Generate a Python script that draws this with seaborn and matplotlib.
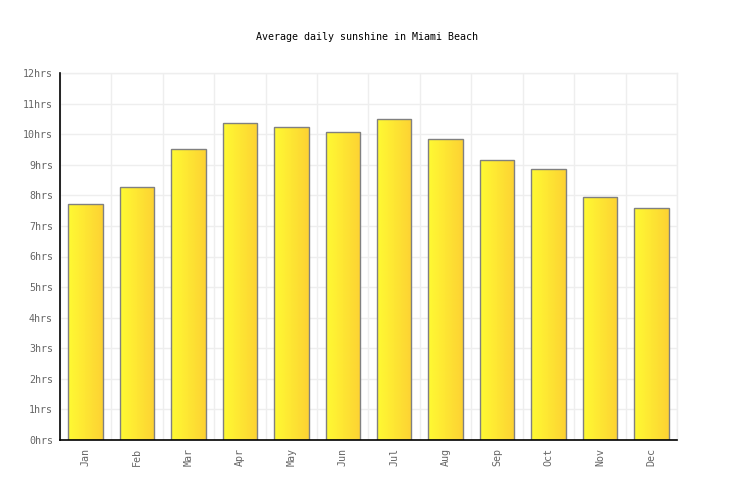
import numpy as np
import pandas as pd
import matplotlib
matplotlib.use("Agg")
import matplotlib.pyplot as plt
import seaborn as sns
from matplotlib.colors import LinearSegmentedColormap

months = ["Jan", "Feb", "Mar", "Apr", "May", "Jun", "Jul", "Aug", "Sep", "Oct", "Nov", "Dec"]
sunshine = [7.71, 8.26, 9.50, 10.36, 10.22, 10.06, 10.49, 9.83, 9.15, 8.85, 7.94, 7.58]
ytick_values = list(range(0, 13))
ytick_labels = [f"{v}hrs" for v in ytick_values]
title = "Average daily sunshine in Miami Beach"

df = pd.DataFrame({"month": months, "hours": sunshine})

sns.set_theme(style="white")
plt.rcParams["font.family"] = ["DejaVu Sans Mono"]

fig = plt.figure(figsize=(7.36, 5.0), dpi=100)
ax = fig.add_axes([60 / 736, 60 / 500, (677 - 60) / 736, (440 - 73) / 500])

sns.barplot(data=df, x="month", y="hours", ax=ax, width=0.67,
            color="#ffee33", edgecolor="#808080", linewidth=1.0, zorder=3)

cmap = LinearSegmentedColormap.from_list("sun", ["#fffa33", "#fdd233"])
grad = np.linspace(0, 1, 256).reshape(1, -1)
for p in ax.patches:
    x0, y0 = p.get_x(), p.get_y()
    w, h = p.get_width(), p.get_height()
    p.set_facecolor("none")
    im = ax.imshow(grad, cmap=cmap, aspect="auto", extent=[x0, x0 + w, y0, y0 + h],
                   zorder=2.5, interpolation="bilinear")
    im.set_clip_path(p)

ax.set_xlim(-0.5, len(months) - 0.5)
ax.set_ylim(0, 12)
ax.set_yticks(ytick_values)
ax.set_yticklabels(ytick_labels)
ax.set_xticks(range(len(months)))
ax.set_xticklabels(months, rotation=90)

ax.set_xticks(np.arange(-0.5, len(months), 1), minor=True)
ax.grid(False)
ax.xaxis.grid(True, which="minor", color="#eeeeee", linewidth=1, zorder=0)
ax.yaxis.grid(True, which="major", color="#eeeeee", linewidth=1, zorder=0)
ax.set_axisbelow(True)

ax.tick_params(axis="both", which="both", length=0, labelsize=7.2, colors="#666666")
ax.tick_params(axis="y", pad=5)
ax.tick_params(axis="x", pad=6)

for s in ["top", "right"]:
    ax.spines[s].set_color("#eeeeee")
    ax.spines[s].set_linewidth(1)
for s in ["left", "bottom"]:
    ax.spines[s].set_color("black")
    ax.spines[s].set_linewidth(1.2)
    ax.spines[s].set_zorder(5)

ax.set_xlabel("")
ax.set_ylabel("")
fig.text(367 / 736, 1 - 37 / 500, title, ha="center", va="center", fontsize=7.2, color="black")

fig.savefig("out.png", dpi=100, facecolor="white")
